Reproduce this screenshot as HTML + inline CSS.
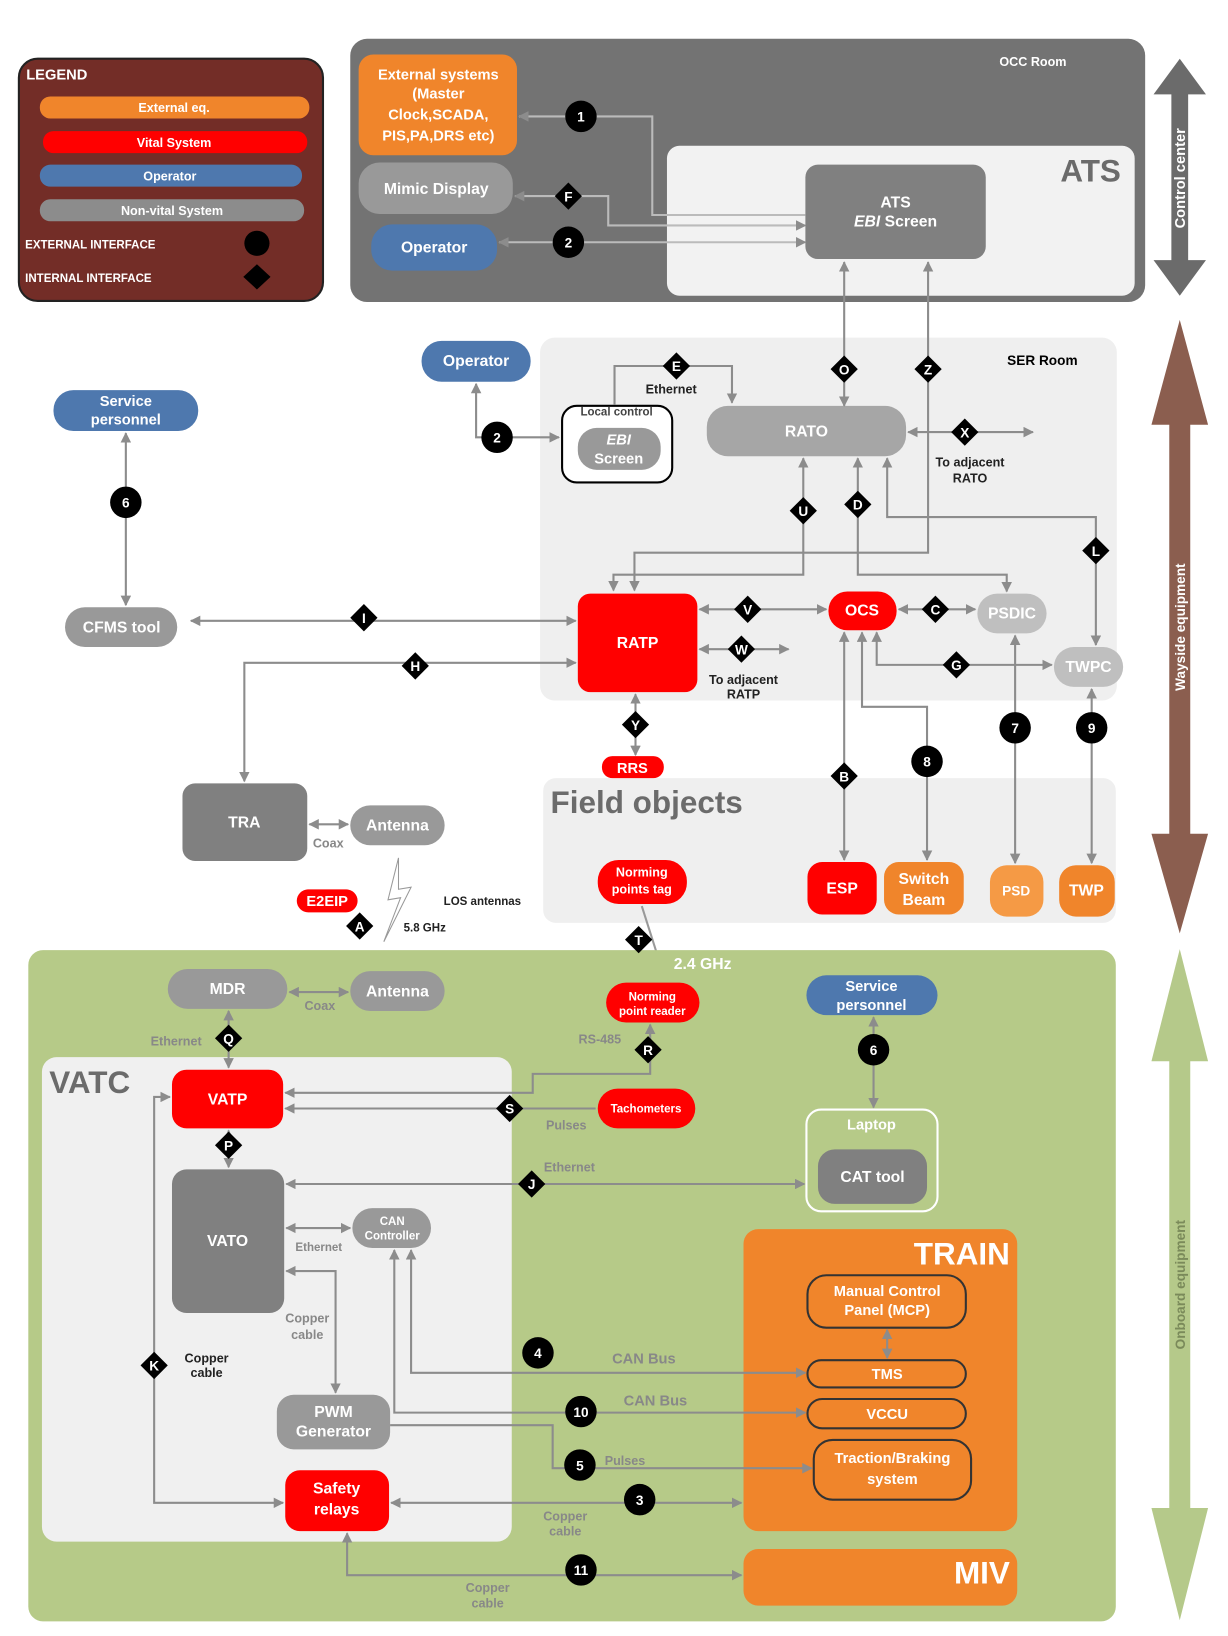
<!DOCTYPE html>
<html><head><meta charset="utf-8"><style>
html,body{margin:0;padding:0;background:#fff;}
svg{display:block;}
text{font-family:"Liberation Sans",sans-serif;font-weight:bold;}
</style></head><body>
<svg width="1228" height="1636" viewBox="0 0 1171 1560" preserveAspectRatio="none" xmlns="http://www.w3.org/2000/svg">
<defs>
<marker id="a" viewBox="0 0 10 10" refX="9" refY="5" markerWidth="5" markerHeight="5" orient="auto-start-reverse"><path d="M0,0L10,5L0,10z" fill="#8c8c8c"/></marker>
</defs>
<!-- side arrows -->
<g>
<polygon points="1125,56 1150,90 1133,90 1133,248 1150,248 1125,282 1100,248 1117,248 1117,90 1100,90" fill="#6b6b6b"/>
<polygon points="1125,305 1152,405 1135,405 1135,795 1152,795 1125,890 1098,795 1115,795 1115,405 1098,405" fill="#8b5e4f"/>
<polygon points="1125,905 1152,1012 1135,1012 1135,1438 1152,1438 1125,1545 1098,1438 1115,1438 1115,1012 1098,1012" fill="#b5c98a"/>
<text transform="translate(1130,170) rotate(-90)" text-anchor="middle" font-size="14" fill="#fff">Control center</text>
<text transform="translate(1130,598) rotate(-90)" text-anchor="middle" font-size="13" fill="#fff">Wayside equipment</text>
<text transform="translate(1130,1225) rotate(-90)" text-anchor="middle" font-size="13" fill="#7a8a5a">Onboard equipment</text>
</g>
<!-- legend -->
<rect x="18" y="56" width="290" height="231" rx="18" fill="#732d27" stroke="#222" stroke-width="2"/>
<text x="25" y="76" font-size="14" fill="#fff" font-weight="normal">LEGEND</text>
<rect x="38" y="92" width="257" height="21" rx="10" fill="#f0852b"/><text x="166" y="107" text-anchor="middle" font-size="12" fill="#fff">External eq.</text>
<rect x="41" y="125" width="252" height="21" rx="10" fill="#ff0000"/><text x="166" y="140" text-anchor="middle" font-size="12" fill="#fff">Vital System</text>
<rect x="38" y="157" width="250" height="21" rx="10" fill="#4e78ae"/><text x="162" y="172" text-anchor="middle" font-size="12" fill="#fff">Operator</text>
<rect x="38" y="190" width="252" height="21" rx="10" fill="#8c8c8c"/><text x="164" y="205" text-anchor="middle" font-size="12" fill="#fff">Non-vital System</text>
<text x="24" y="237" font-size="11" fill="#fff">EXTERNAL INTERFACE</text>
<circle cx="245" cy="232" r="12" fill="#000"/>
<text x="24" y="269" font-size="11" fill="#fff">INTERNAL INTERFACE</text>
<polygon points="245,252 258,264 245,276 232,264" fill="#000"/>
<!-- OCC -->
<rect x="334" y="37" width="758" height="251" rx="16" fill="#737373"/>
<text x="985" y="63" text-anchor="middle" font-size="12" fill="#fff">OCC Room</text>
<rect x="636" y="139" width="446" height="143" rx="12" fill="#f2f2f2"/>
<text x="1040" y="173" text-anchor="middle" font-size="30" fill="#6b6b6b">ATS</text>
<rect x="768" y="157" width="172" height="90" rx="12" fill="#808080"/>
<text x="854" y="198" text-anchor="middle" font-size="15" fill="#fff">ATS</text>
<text x="854" y="216" text-anchor="middle" font-size="15" fill="#fff"><tspan font-style="italic">EBI</tspan> Screen</text>
<rect x="342" y="52" width="151" height="96" rx="14" fill="#f0852b"/>
<text x="418" y="76" text-anchor="middle" font-size="14" fill="#fff">External systems</text>
<text x="418" y="94" text-anchor="middle" font-size="14" fill="#fff">(Master</text>
<text x="418" y="114" text-anchor="middle" font-size="14" fill="#fff">Clock,SCADA,</text>
<text x="418" y="134" text-anchor="middle" font-size="14" fill="#fff">PIS,PA,DRS etc)</text>
<rect x="342" y="155" width="147" height="49" rx="20" fill="#999"/>
<text x="416" y="185" text-anchor="middle" font-size="15" fill="#fff">Mimic Display</text>
<rect x="354" y="214" width="120" height="44" rx="20" fill="#4e78ae"/>
<text x="414" y="241" text-anchor="middle" font-size="15" fill="#fff">Operator</text>
<g stroke="#d0d0d0" stroke-width="2" fill="none" marker-end="url(#a)">
<path d="M768,205 H622 V111 H495" stroke="#bbb"/>
<path d="M768,215 H580 V187 H491" marker-start="url(#a)" stroke="#bbb"/>
<path d="M768,231 H476" marker-start="url(#a)" stroke="#bbb"/>
</g>
<!-- SER -->
<rect x="515" y="322" width="550" height="346" rx="14" fill="#efefef"/>
<text x="994" y="348" text-anchor="middle" font-size="13" fill="#000">SER Room</text>
<!-- Field objects background -->
<rect x="518" y="742" width="546" height="138" rx="12" fill="#efefef"/>
<text x="525" y="775" font-size="30" fill="#6b6b6b">Field objects</text>
<rect x="402" y="325" width="104" height="39" rx="19" fill="#4e78ae"/>
<text x="454" y="349" text-anchor="middle" font-size="15" fill="#fff">Operator</text>
<rect x="536" y="387" width="105" height="73" rx="14" fill="#fff" stroke="#000" stroke-width="2"/>
<text x="588" y="396" text-anchor="middle" font-size="11" fill="#444" font-weight="normal">Local control</text>
<rect x="551" y="408" width="79" height="40" rx="18" fill="#999"/>
<text x="590" y="424" text-anchor="middle" font-size="14" fill="#fff" font-style="italic">EBI</text>
<text x="590" y="442" text-anchor="middle" font-size="14" fill="#fff">Screen</text>
<rect x="674" y="387" width="190" height="48" rx="20" fill="#a6a6a6"/>
<text x="769" y="416" text-anchor="middle" font-size="15" fill="#fff">RATO</text>
<rect x="551" y="566" width="114" height="94" rx="12" fill="#ff0000"/>
<text x="608" y="618" text-anchor="middle" font-size="15" fill="#fff">RATP</text>
<rect x="790" y="564" width="65" height="37" rx="18" fill="#ff0000"/>
<text x="822" y="587" text-anchor="middle" font-size="15" fill="#fff">OCS</text>
<rect x="932" y="566" width="66" height="38" rx="19" fill="#bfbfbf"/>
<text x="965" y="590" text-anchor="middle" font-size="15" fill="#fff">PSDIC</text>
<rect x="1005" y="617" width="66" height="38" rx="19" fill="#bfbfbf"/>
<text x="1038" y="641" text-anchor="middle" font-size="15" fill="#fff">TWPC</text>
<rect x="62" y="579" width="107" height="38" rx="19" fill="#999"/>
<text x="116" y="603" text-anchor="middle" font-size="15" fill="#fff">CFMS tool</text>
<rect x="51" y="372" width="138" height="39" rx="19" fill="#4e78ae"/>
<text x="120" y="387" text-anchor="middle" font-size="14" fill="#fff">Service</text>
<text x="120" y="405" text-anchor="middle" font-size="14" fill="#fff">personnel</text>
<!-- SER lines -->
<g stroke="#8c8c8c" stroke-width="2" fill="none">
<path d="M805,387 V250" marker-start="url(#a)" marker-end="url(#a)"/>
<path d="M885,250 V527 H605 V563" marker-start="url(#a)" marker-end="url(#a)"/>
<path d="M586,386 V349 H698 V384" marker-end="url(#a)"/>
<path d="M454,366 V417 H533" marker-start="url(#a)" marker-end="url(#a)"/>
<path d="M866,412 H985" marker-start="url(#a)" marker-end="url(#a)"/>
<path d="M766,437 V548 H585 V563" marker-start="url(#a)" marker-end="url(#a)"/>
<path d="M818,437 V548 H960 V564" marker-start="url(#a)" marker-end="url(#a)"/>
<path d="M846,437 V493 H1045 V615" marker-start="url(#a)" marker-end="url(#a)"/>
<path d="M667,581 H788" marker-start="url(#a)" marker-end="url(#a)"/>
<path d="M667,619 H752" marker-start="url(#a)" marker-end="url(#a)"/>
<path d="M857,581 H930" marker-start="url(#a)" marker-end="url(#a)"/>
<path d="M836,603 V634 H1003" marker-start="url(#a)" marker-end="url(#a)"/>
<path d="M182,592 H549" marker-start="url(#a)" marker-end="url(#a)"/>
<path d="M233,745 V632 H549" marker-start="url(#a)" marker-end="url(#a)"/>
<path d="M120,413 V577" marker-start="url(#a)" marker-end="url(#a)"/>
<path d="M606,662 V720" marker-start="url(#a)" marker-end="url(#a)"/>
<path d="M805,603 V820" marker-start="url(#a)" marker-end="url(#a)"/>
<path d="M822,603 V674 H884 V820" marker-start="url(#a)" marker-end="url(#a)"/>
<path d="M968,606 V823" marker-start="url(#a)" marker-end="url(#a)"/>
<path d="M1041,657 V823" marker-start="url(#a)" marker-end="url(#a)"/>
<path d="M295,786 H332" marker-start="url(#a)" marker-end="url(#a)"/>
</g>
<text x="640" y="375" text-anchor="middle" font-size="12" fill="#222">Ethernet</text>
<text x="925" y="445" text-anchor="middle" font-size="12" fill="#222">To adjacent</text>
<text x="925" y="460" text-anchor="middle" font-size="12" fill="#222">RATO</text>
<text x="709" y="652" text-anchor="middle" font-size="12" fill="#222">To adjacent</text>
<text x="709" y="666" text-anchor="middle" font-size="12" fill="#222">RATP</text>
<rect x="574" y="721" width="59" height="21" rx="10" fill="#ff0000"/>
<text x="603" y="737" text-anchor="middle" font-size="14" fill="#fff">RRS</text>
<!-- Field objects -->
<rect x="770" y="822" width="66" height="50" rx="14" fill="#ff0000"/>
<text x="803" y="852" text-anchor="middle" font-size="15" fill="#fff">ESP</text>
<rect x="843" y="822" width="76" height="50" rx="14" fill="#f0852b"/>
<text x="881" y="843" text-anchor="middle" font-size="15" fill="#fff">Switch</text>
<text x="881" y="863" text-anchor="middle" font-size="15" fill="#fff">Beam</text>
<rect x="944" y="825" width="51" height="49" rx="16" fill="#f59a45"/>
<text x="969" y="854" text-anchor="middle" font-size="13" fill="#fff">PSD</text>
<rect x="1010" y="825" width="53" height="49" rx="16" fill="#f0852b"/>
<text x="1036" y="854" text-anchor="middle" font-size="15" fill="#fff">TWP</text>
<rect x="570" y="820" width="85" height="42" rx="20" fill="#ff0000"/>
<text x="612" y="836" text-anchor="middle" font-size="12" fill="#fff">Norming</text>
<text x="612" y="852" text-anchor="middle" font-size="12" fill="#fff">points tag</text>
<rect x="174" y="747" width="119" height="74" rx="12" fill="#808080"/>
<text x="233" y="789" text-anchor="middle" font-size="15" fill="#fff">TRA</text>
<rect x="334" y="768" width="90" height="38" rx="19" fill="#999"/>
<text x="379" y="792" text-anchor="middle" font-size="15" fill="#fff">Antenna</text>
<text x="313" y="808" text-anchor="middle" font-size="12" fill="#888" font-weight="normal">Coax</text>
<rect x="283" y="848" width="58" height="22" rx="11" fill="#ff0000"/>
<text x="312" y="864" text-anchor="middle" font-size="14" fill="#fff">E2EIP</text>
<polygon points="380,818 370,858 382,856 366,898 392,846 380,848" fill="#fff" stroke="#999" stroke-width="1"/>
<text x="460" y="863" text-anchor="middle" font-size="11" fill="#222">LOS antennas</text>
<text x="405" y="888" text-anchor="middle" font-size="11" fill="#222">5.8 GHz</text>
<path d="M612,864 L633,930" stroke="#999" stroke-width="2" fill="none"/>
<!-- Green onboard -->
<rect x="27" y="906" width="1037" height="640" rx="14" fill="#b6ca88"/>
<text x="670" y="924" text-anchor="middle" font-size="15" fill="#fff">2.4 GHz</text>
<rect x="40" y="1008" width="448" height="462" rx="14" fill="#f0f0f0"/>
<text x="47" y="1042" font-size="30" fill="#6b6b6b">VATC</text>
<rect x="160" y="924" width="114" height="38" rx="19" fill="#999"/>
<text x="217" y="948" text-anchor="middle" font-size="15" fill="#fff">MDR</text>
<rect x="334" y="926" width="90" height="38" rx="19" fill="#999"/>
<text x="379" y="950" text-anchor="middle" font-size="15" fill="#fff">Antenna</text>
<text x="305" y="963" text-anchor="middle" font-size="12" fill="#888" font-weight="normal">Coax</text>
<text x="168" y="997" text-anchor="middle" font-size="12" fill="#888" font-weight="normal">Ethernet</text>
<rect x="578" y="937" width="89" height="38" rx="19" fill="#ff0000"/>
<text x="622" y="954" text-anchor="middle" font-size="11" fill="#fff">Norming</text>
<text x="622" y="968" text-anchor="middle" font-size="11" fill="#fff">point reader</text>
<text x="572" y="995" text-anchor="middle" font-size="12" fill="#888" font-weight="normal">RS-485</text>
<rect x="769" y="930" width="125" height="38" rx="19" fill="#4e78ae"/>
<text x="831" y="945" text-anchor="middle" font-size="14" fill="#fff">Service</text>
<text x="831" y="963" text-anchor="middle" font-size="14" fill="#fff">personnel</text>
<rect x="164" y="1020" width="106" height="56" rx="14" fill="#ff0000"/>
<text x="217" y="1053" text-anchor="middle" font-size="15" fill="#fff">VATP</text>
<rect x="570" y="1038" width="93" height="38" rx="19" fill="#ff0000"/>
<text x="616" y="1061" text-anchor="middle" font-size="11" fill="#fff">Tachometers</text>
<text x="540" y="1077" text-anchor="middle" font-size="12" fill="#888" font-weight="normal">Pulses</text>
<rect x="769" y="1058" width="125" height="97" rx="14" fill="none" stroke="#fff" stroke-width="2"/>
<text x="831" y="1077" text-anchor="middle" font-size="14" fill="#fff">Laptop</text>
<rect x="780" y="1096" width="104" height="52" rx="16" fill="#808080"/>
<text x="832" y="1127" text-anchor="middle" font-size="15" fill="#fff">CAT tool</text>
<rect x="164" y="1115" width="107" height="137" rx="14" fill="#808080"/>
<text x="217" y="1188" text-anchor="middle" font-size="15" fill="#fff">VATO</text>
<text x="543" y="1117" text-anchor="middle" font-size="12" fill="#888" font-weight="normal">Ethernet</text>
<rect x="336" y="1152" width="75" height="38" rx="19" fill="#999"/>
<text x="374" y="1168" text-anchor="middle" font-size="11" fill="#fff">CAN</text>
<text x="374" y="1182" text-anchor="middle" font-size="11" fill="#fff">Controller</text>
<text x="304" y="1193" text-anchor="middle" font-size="11" fill="#888" font-weight="normal">Ethernet</text>
<text x="293" y="1261" text-anchor="middle" font-size="12" fill="#888" font-weight="normal">Copper</text>
<text x="293" y="1277" text-anchor="middle" font-size="12" fill="#888" font-weight="normal">cable</text>
<text x="197" y="1299" text-anchor="middle" font-size="12" fill="#222">Copper</text>
<text x="197" y="1313" text-anchor="middle" font-size="12" fill="#222">cable</text>
<rect x="264" y="1330" width="108" height="52" rx="16" fill="#999"/>
<text x="318" y="1351" text-anchor="middle" font-size="15" fill="#fff">PWM</text>
<text x="318" y="1370" text-anchor="middle" font-size="15" fill="#fff">Generator</text>
<rect x="272" y="1402" width="99" height="58" rx="14" fill="#ff0000"/>
<text x="321" y="1424" text-anchor="middle" font-size="15" fill="#fff">Safety</text>
<text x="321" y="1444" text-anchor="middle" font-size="15" fill="#fff">relays</text>
<!-- TRAIN -->
<rect x="709" y="1172" width="261" height="288" rx="14" fill="#f0852b"/>
<text x="963" y="1206" text-anchor="end" font-size="30" fill="#fff">TRAIN</text>
<g fill="#f0852b" stroke="#333" stroke-width="2">
<rect x="770" y="1216" width="151" height="50" rx="18"/>
<rect x="770" y="1297" width="151" height="26" rx="13"/>
<rect x="770" y="1334" width="151" height="28" rx="14"/>
<rect x="776" y="1373" width="150" height="57" rx="18"/>
</g>
<text x="846" y="1236" text-anchor="middle" font-size="14" fill="#fff">Manual Control</text>
<text x="846" y="1254" text-anchor="middle" font-size="14" fill="#fff">Panel (MCP)</text>
<text x="846" y="1315" text-anchor="middle" font-size="14" fill="#fff">TMS</text>
<text x="846" y="1353" text-anchor="middle" font-size="14" fill="#fff">VCCU</text>
<text x="851" y="1395" text-anchor="middle" font-size="14" fill="#fff">Traction/Braking</text>
<text x="851" y="1415" text-anchor="middle" font-size="14" fill="#fff">system</text>
<rect x="709" y="1477" width="261" height="54" rx="14" fill="#f0852b"/>
<text x="963" y="1510" text-anchor="end" font-size="30" fill="#fff">MIV</text>
<text x="614" y="1300" text-anchor="middle" font-size="14" fill="#888" font-weight="normal">CAN Bus</text>
<text x="625" y="1340" text-anchor="middle" font-size="14" fill="#888" font-weight="normal">CAN Bus</text>
<text x="596" y="1397" text-anchor="middle" font-size="12" fill="#888" font-weight="normal">Pulses</text>
<text x="539" y="1450" text-anchor="middle" font-size="12" fill="#888" font-weight="normal">Copper</text>
<text x="539" y="1464" text-anchor="middle" font-size="12" fill="#888" font-weight="normal">cable</text>
<text x="465" y="1518" text-anchor="middle" font-size="12" fill="#888" font-weight="normal">Copper</text>
<text x="465" y="1533" text-anchor="middle" font-size="12" fill="#888" font-weight="normal">cable</text>
<!-- onboard lines -->
<g stroke="#8c8c8c" stroke-width="2" fill="none">
<path d="M276,946 H332" marker-start="url(#a)" marker-end="url(#a)"/>
<path d="M218,964 V1018" marker-start="url(#a)" marker-end="url(#a)"/>
<path d="M620,977 V1024 H508 V1042 H272" marker-start="url(#a)" marker-end="url(#a)"/>
<path d="M568,1057 H272" marker-end="url(#a)"/>
<path d="M218,1078 V1113" marker-start="url(#a)" marker-end="url(#a)"/>
<path d="M833,970 V1056" marker-start="url(#a)" marker-end="url(#a)"/>
<path d="M273,1129 H767" marker-start="url(#a)" marker-end="url(#a)"/>
<path d="M273,1171 H334" marker-start="url(#a)" marker-end="url(#a)"/>
<path d="M273,1212 H320 V1328" marker-start="url(#a)" marker-end="url(#a)"/>
<path d="M162,1046 H147 V1433 H270" marker-start="url(#a)" marker-end="url(#a)"/>
<path d="M392,1192 V1309 H768" marker-start="url(#a)" marker-end="url(#a)"/>
<path d="M376,1192 V1347 H768" marker-start="url(#a)" marker-end="url(#a)"/>
<path d="M372,1359 H527 V1400 H774" marker-end="url(#a)"/>
<path d="M373,1433 H707" marker-start="url(#a)" marker-end="url(#a)"/>
<path d="M331,1462 V1502 H707" marker-start="url(#a)" marker-end="url(#a)"/>
<path d="M846,1268 V1295" marker-start="url(#a)" marker-end="url(#a)"/>
</g>
<!-- diamonds -->
<g fill="#000">
<path d="M542,174l13,13l-13,13l-13,-13z"/>
<path d="M645,336l13,13l-13,13l-13,-13z"/>
<path d="M805,339l13,13l-13,13l-13,-13z"/>
<path d="M885,339l13,13l-13,13l-13,-13z"/>
<path d="M920,399l13,13l-13,13l-13,-13z"/>
<path d="M766,474l13,13l-13,13l-13,-13z"/>
<path d="M818,468l13,13l-13,13l-13,-13z"/>
<path d="M1045,512l13,13l-13,13l-13,-13z"/>
<path d="M713,568l13,13l-13,13l-13,-13z"/>
<path d="M707,606l13,13l-13,13l-13,-13z"/>
<path d="M892,568l13,13l-13,13l-13,-13z"/>
<path d="M912,621l13,13l-13,13l-13,-13z"/>
<path d="M347,576l13,13l-13,13l-13,-13z"/>
<path d="M396,622l13,13l-13,13l-13,-13z"/>
<path d="M606,678l13,13l-13,13l-13,-13z"/>
<path d="M805,727l13,13l-13,13l-13,-13z"/>
<path d="M343,870l13,13l-13,13l-13,-13z"/>
<path d="M609,883l13,13l-13,13l-13,-13z"/>
<path d="M218,977l13,13l-13,13l-13,-13z"/>
<path d="M618,988l13,13l-13,13l-13,-13z"/>
<path d="M486,1044l13,13l-13,13l-13,-13z"/>
<path d="M218,1079l13,13l-13,13l-13,-13z"/>
<path d="M507,1116l13,13l-13,13l-13,-13z"/>
<path d="M147,1289l13,13l-13,13l-13,-13z"/>
</g>
<g fill="#fff" font-size="13" text-anchor="middle">
<text x="542" y="192">F</text><text x="645" y="354">E</text><text x="805" y="357">O</text><text x="885" y="357">Z</text>
<text x="920" y="417">X</text><text x="766" y="492">U</text><text x="818" y="486">D</text><text x="1045" y="530">L</text>
<text x="713" y="586">V</text><text x="707" y="624">W</text><text x="892" y="586">C</text><text x="912" y="639">G</text>
<text x="347" y="594">I</text><text x="396" y="640">H</text><text x="606" y="696">Y</text><text x="805" y="745">B</text>
<text x="343" y="888">A</text><text x="609" y="901">T</text><text x="218" y="995">Q</text><text x="618" y="1006">R</text>
<text x="486" y="1062">S</text><text x="218" y="1097">P</text><text x="507" y="1134">J</text><text x="147" y="1307">K</text>
</g>
<!-- circles -->
<g fill="#000">
<circle cx="554" cy="111" r="15"/><circle cx="542" cy="231" r="15"/><circle cx="474" cy="417" r="15"/>
<circle cx="120" cy="479" r="15"/><circle cx="884" cy="726" r="15"/><circle cx="968" cy="694" r="15"/>
<circle cx="1041" cy="694" r="15"/><circle cx="833" cy="1001" r="15"/><circle cx="513" cy="1290" r="15"/>
<circle cx="554" cy="1346" r="15"/><circle cx="553" cy="1397" r="15"/><circle cx="610" cy="1430" r="15"/>
<circle cx="554" cy="1497" r="15"/>
</g>
<g fill="#fff" font-size="13" text-anchor="middle">
<text x="554" y="116">1</text><text x="542" y="236">2</text><text x="474" y="422">2</text><text x="120" y="484">6</text>
<text x="884" y="731">8</text><text x="968" y="699">7</text><text x="1041" y="699">9</text><text x="833" y="1006">6</text>
<text x="513" y="1295">4</text><text x="554" y="1351">10</text><text x="553" y="1402">5</text><text x="610" y="1435">3</text>
<text x="554" y="1502">11</text>
</g>
</svg>
</body></html>
